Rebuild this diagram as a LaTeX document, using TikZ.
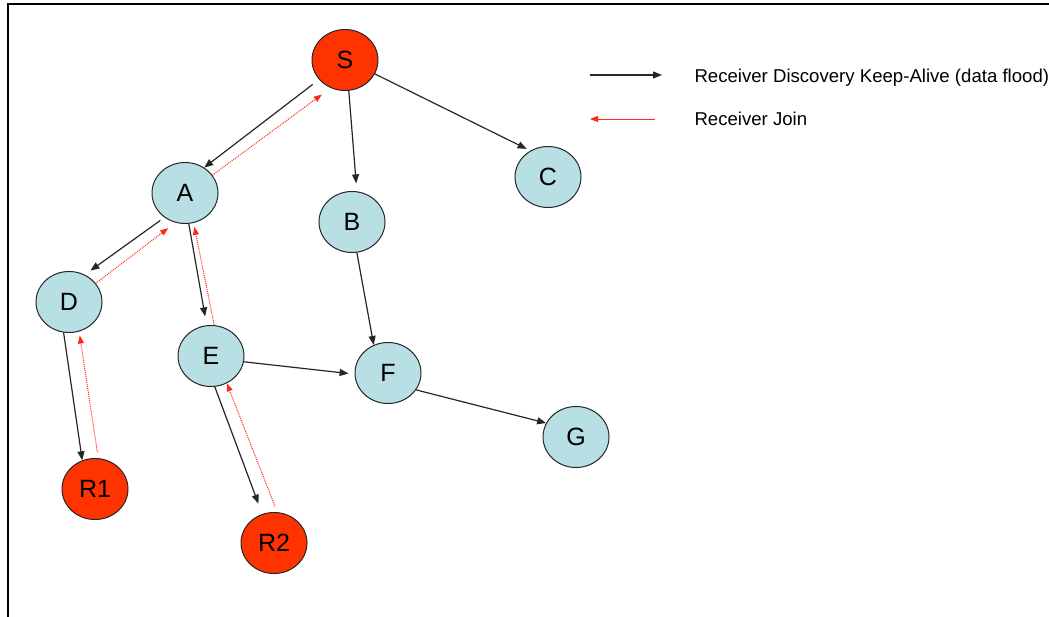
\documentclass[tikz,border=0pt]{standalone}
\usepackage{fontspec}
\setmainfont{Liberation Sans}
\usetikzlibrary{shapes.geometric,arrows.meta}

\definecolor{nodeblue}{RGB}{183,223,228}
\definecolor{srcred}{RGB}{255,51,0}
\definecolor{joinred}{RGB}{255,40,20}

\tikzset{
  router/.style={ellipse, draw=black!85, line width=1pt, fill=nodeblue,
    minimum width=66pt, minimum height=61pt, inner sep=0pt,
    font=\fontsize{25}{28}\selectfont},
  receiver/.style={router, fill=srcred},
  flood/.style={-{Triangle[length=9pt,width=7pt]}, line width=1.2pt, black!85},
  rjoin/.style={-{Triangle[length=8pt,width=6pt]}, line width=1pt, joinred, densely dotted},
  legend/.style={anchor=base west, font=\fontsize{18.6}{22}\selectfont}
}

\begin{document}
\begin{tikzpicture}[x=1pt, y=-1pt]
  \useasboundingbox (0,0) rectangle (1049,617);
  % frame
  \draw[line width=2.5pt] (8,617) -- (8,4) -- (1049,4);

  % source, routers, receivers
  \node[receiver] (S) at (345,60) {S};
  \node[router] (A) at (185,193) {A};
  \node[router] (B) at (352,222) {B};
  \node[router] (C) at (548,177) {C};
  \node[router] (D) at (69,302) {D};
  \node[router] (E) at (211,356) {E};
  \node[router] (F) at (388,373) {F};
  \node[router] (G) at (576,437) {G};
  \node[receiver] (R1) at (95,489) {R1};
  \node[receiver] (R2) at (274,543) {R2};

  % keep-alive flood from S
  \draw[flood, shorten <=8pt] (S.217) -- (A.53);
  \draw[flood, shorten >=8pt] (S.277) -- (B.81);
  \draw[flood, shorten >=4pt] (S.335) -- (C.124);
  \draw[flood, shorten <=5pt, shorten >=7pt] (A.230) -- (D.60);
  \draw[flood, shorten >=9pt] (A.277) -- (E.98);
  \draw[flood] (D.260) -- (R1.114);
  \draw[flood, shorten >=6pt] (E.350) -- (F.182);
  \draw[flood, shorten >=11pt] (E.277) -- (R2.112);
  \draw[flood] (B.279) -- (F.117);
  \draw[flood] (F.329) -- (G.155);

  % joins back towards S
  \draw[rjoin, shorten >=11pt] (A.33) -- (S.243);
  \draw[rjoin, shorten >=9pt] (D.35) -- (A.252);
  \draw[rjoin, shorten >=4pt] (E.84) -- (A.286);
  \draw[rjoin, shorten <=6pt, shorten >=4pt] (R1.84) -- (D.289);
  \draw[rjoin, shorten <=6pt] (R2.84) -- (E.300);

  % legend
  \coordinate (k0) at (590,75);
  \coordinate (k1) at (662,75);
  \draw[flood] (k0) -- (k1);
  \node[legend] (klabel) at (691,83) {Receiver Discovery Keep-Alive (data flood)};
  \coordinate (j0) at (655,119);
  \coordinate (j1) at (590,119);
  \draw[rjoin, solid, line width=0.8pt] (j0) -- (j1);
  \node[legend] (jlabel) at (691,126) {Receiver Join};
\end{tikzpicture}
\end{document}
